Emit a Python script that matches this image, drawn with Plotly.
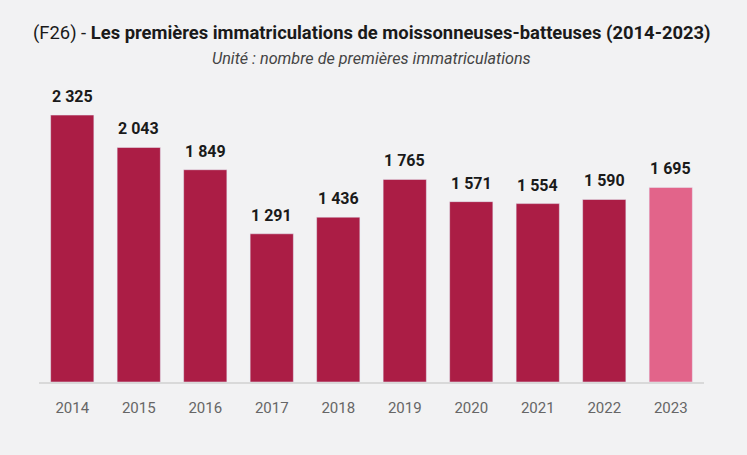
import plotly.graph_objects as go

years = ["2014", "2015", "2016", "2017", "2018", "2019", "2020", "2021", "2022", "2023"]
values = [2325, 2043, 1849, 1291, 1436, 1765, 1571, 1554, 1590, 1695]

dark = "#AB1D45"
light = "#E2648A"
colors = [dark] * (len(years) - 1) + [light]
labels = [f"{v:,}".replace(",", " ") for v in values]

fig = go.Figure()
fig.add_trace(go.Bar(
    x=years, y=values, marker_color=colors, width=0.65,
    hoverinfo="skip",
))

for i, (v, t) in enumerate(zip(values, labels)):
    fig.add_annotation(x=i, y=v, text=f"<b>{t}</b>", showarrow=False,
                       yanchor="bottom", yshift=7,
                       font=dict(family="Roboto", size=16, color="#1a1a1a"))

fig.add_annotation(
    xref="paper", yref="paper", x=0.5, y=1, yshift=62, yanchor="middle",
    text="(F26) - <b>Les premières immatriculations de moissonneuses-batteuses (2014-2023)</b>",
    showarrow=False, font=dict(family="Roboto", size=18.4, color="#1a1a1a"))
fig.add_annotation(
    xref="paper", yref="paper", x=0.5, y=1, yshift=37, yanchor="middle",
    text="<i>Unité : nombre de premières immatriculations</i>",
    showarrow=False, font=dict(family="Roboto", size=16.2, color="#444444"))

fig.update_layout(
    width=747, height=455,
    margin=dict(l=39, r=43, t=95, b=73),
    paper_bgcolor="#F2F2F3", plot_bgcolor="#F2F2F3",
    showlegend=False,
    bargap=0.35,
    xaxis=dict(type="category", showgrid=False, showline=True, linecolor="#D9D9D9", linewidth=1.5,
               ticks="", ticklabelstandoff=11,
               tickfont=dict(family="Roboto", size=15, color="#666666"),
               range=[-0.5, 9.5]),
    yaxis=dict(visible=False, range=[0, 2500], showgrid=False),
)

fig.write_html(
    "out.html",
    config={"displayModeBar": False},
    post_script="document.body.style.margin='0';document.body.style.background='#F2F2F3';",
)
